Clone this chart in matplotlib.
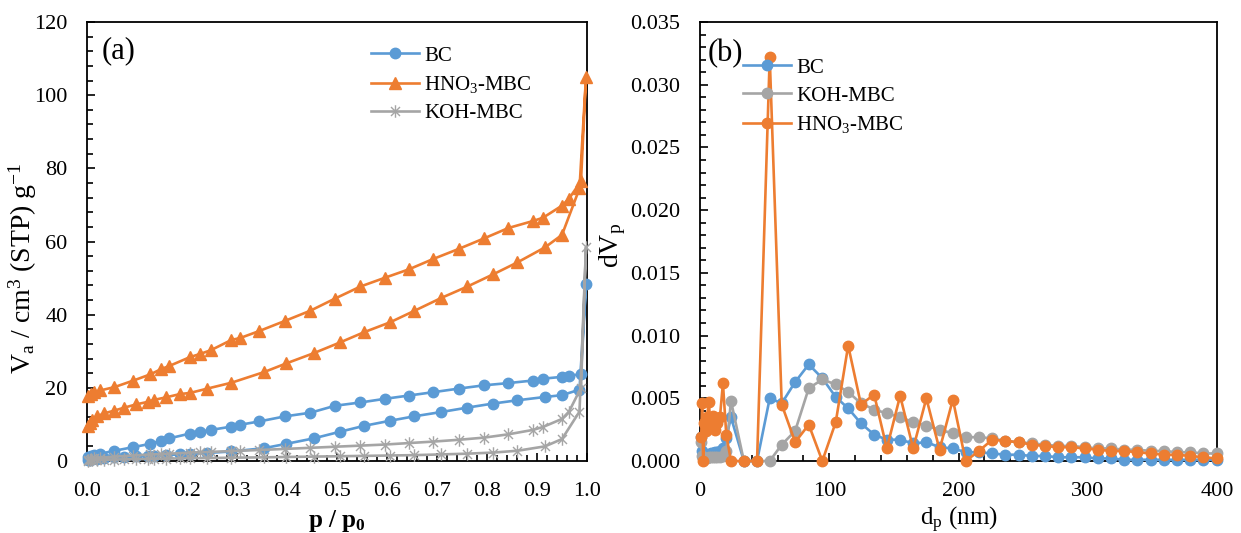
import matplotlib
matplotlib.use("Agg")
import matplotlib.pyplot as plt
from matplotlib.path import Path
from matplotlib.ticker import MultipleLocator, FormatStrFormatter

plt.rcParams['font.family'] = ['Liberation Serif', 'DejaVu Serif']
plt.rcParams['mathtext.default'] = 'regular'

# ---------------- Panel (a): N2 isotherms ----------------
P_ADS = [0.003, 0.006, 0.01, 0.02, 0.034, 0.055, 0.075, 0.099, 0.123, 0.134, 0.158, 0.186,
         0.206, 0.241, 0.289, 0.354, 0.399, 0.454, 0.506, 0.554, 0.606, 0.654, 0.709, 0.761,
         0.812, 0.861, 0.916, 0.950, 0.985, 0.998]
BC_ADS = [0.3, 0.4, 0.5, 0.6, 0.8, 1.0, 1.1, 1.3, 1.4, 1.5, 1.6, 1.8,
          1.9, 2.2, 2.6, 3.5, 4.7, 6.2, 8.0, 9.6, 11.0, 12.2, 13.4, 14.6,
          15.7, 16.6, 17.5, 18.0, 19.5, 48.4]
HNO3_ADS = [9.6, 10.4, 11.2, 12.2, 13.0, 13.8, 14.6, 15.5, 16.2, 16.7, 17.4, 18.3,
            18.6, 19.8, 21.4, 24.3, 26.7, 29.5, 32.4, 35.2, 37.9, 41.0, 44.6, 47.7,
            51.0, 54.3, 58.4, 61.8, 74.5, 105.0]
KOH_ADS = [0.1, 0.15, 0.2, 0.25, 0.3, 0.4, 0.45, 0.5, 0.55, 0.6, 0.65, 0.7,
           0.75, 0.8, 0.9, 1.0, 1.1, 1.2, 1.3, 1.4, 1.5, 1.6, 1.8, 2.0,
           2.3, 2.8, 4.0, 6.0, 13.5, 58.5]

P_DES = [0.003, 0.008, 0.015, 0.027, 0.055, 0.093, 0.127, 0.148, 0.165, 0.206, 0.227, 0.248,
         0.289, 0.306, 0.344, 0.396, 0.447, 0.496, 0.547, 0.596, 0.644, 0.692, 0.744, 0.795,
         0.843, 0.892, 0.912, 0.950, 0.964, 0.988]
BC_DES = [1.0, 1.3, 1.6, 2.0, 2.8, 3.8, 4.7, 5.5, 6.2, 7.5, 8.0, 8.5,
          9.4, 9.9, 10.8, 12.2, 13.2, 15.1, 16.0, 17.0, 17.9, 18.8, 19.8, 20.7,
          21.3, 22.0, 22.5, 23.0, 23.2, 23.8]
HNO3_DES = [17.9, 18.3, 18.8, 19.3, 20.2, 22.0, 23.7, 25.1, 26.0, 28.4, 29.3, 30.3,
            33.1, 33.6, 35.5, 38.3, 41.1, 44.4, 47.7, 50.1, 52.4, 55.2, 58.0, 60.9,
            63.7, 65.6, 66.5, 69.8, 71.7, 76.5]
KOH_DES = [0.3, 0.5, 0.7, 0.9, 1.2, 1.5, 1.8, 1.9, 2.0, 2.3, 2.4, 2.5,
           2.7, 2.8, 3.0, 3.3, 3.6, 3.9, 4.2, 4.5, 4.9, 5.3, 5.8, 6.4,
           7.3, 8.5, 9.3, 11.5, 13.5, 20.0]

# ---------------- Panel (b): pore size distribution ----------------
D_NM = [0.9, 1.6, 2.4, 3.3, 4.3, 5.4, 6.7, 8.1, 9.7, 11.4, 13.3, 15.4, 17.7, 20.3,
        23.9, 33.9, 44.1, 53.9, 63.2, 73.6, 84.1, 94.6, 105.0, 114.6, 124.5, 134.7,
        144.5, 154.8, 164.9, 175.1, 185.3, 195.6, 205.5, 215.8, 226.0, 236.2, 246.4,
        256.6, 266.8, 277.0, 287.3, 297.5, 307.7, 317.9, 328.1, 338.4, 348.6, 358.8,
        369.0, 379.2, 389.5, 399.7]
BC_DV = [0.0019, 0.0008, 0.0005, 0.0004, 0.0004, 0.0005, 0.0005, 0.0006, 0.0006, 0.0007,
         0.0007, 0.0008, 0.0010, 0.0018, 0.0035, 0.0000, 0.0000, 0.0050, 0.0046, 0.0063,
         0.0077, 0.0066, 0.0051, 0.0042, 0.0030, 0.0021, 0.0017, 0.0017, 0.0014, 0.0015,
         0.0011, 0.0010, 0.0007, 0.0007, 0.0006, 0.0005, 0.0005, 0.0004, 0.0004, 0.0003,
         0.0003, 0.0003, 0.0002, 0.0002, 0.0001, 0.0001, 0.0001, 0.0001, 0.0001, 0.0001,
         0.0001, 0.0001]
KOH_DV = [0.0015, 0.0004, 0.0002, 0.0002, 0.0002, 0.0002, 0.0003, 0.0003, 0.0003, 0.0003,
          0.0003, 0.0003, 0.0004, 0.0008, 0.0048, 0.0000, 0.0000, 0.0000, 0.0013, 0.0024,
          0.0058, 0.0065, 0.0061, 0.0055, 0.0046, 0.0041, 0.0038, 0.0035, 0.0031, 0.0028,
          0.0025, 0.0022, 0.0019, 0.0019, 0.0018, 0.0016, 0.0015, 0.0014, 0.0013, 0.0012,
          0.0012, 0.0011, 0.0010, 0.0010, 0.0009, 0.0009, 0.0008, 0.0008, 0.0007, 0.0007,
          0.0006, 0.0006]
HNO3_DV = [0.0019, 0.0046, 0.0000, 0.0030, 0.0024, 0.0035, 0.0047, 0.0030, 0.0036, 0.0025,
           0.0030, 0.0035, 0.0062, 0.0021, 0.0000, 0.0000, 0.0000, 0.0322, 0.0045, 0.0015,
           0.0029, 0.0000, 0.0031, 0.0092, 0.0045, 0.0053, 0.0010, 0.0052, 0.0010, 0.0050,
           0.0009, 0.0049, 0.0000, 0.0008, 0.0017, 0.0016, 0.0015, 0.0013, 0.0012, 0.0011,
           0.0011, 0.0010, 0.0009, 0.0008, 0.0008, 0.0007, 0.0006, 0.0005, 0.0005, 0.0004,
           0.0003, 0.0002]

BLUE = '#5B9BD5'
ORANGE = '#ED7D31'
GRAY = '#A5A5A5'

# Excel-like asterisk marker (vertical line + X)
STAR = Path([(0, -1), (0, 1), (-0.72, -0.72), (0.72, 0.72), (-0.72, 0.72), (0.72, -0.72)],
            [Path.MOVETO, Path.LINETO, Path.MOVETO, Path.LINETO, Path.MOVETO, Path.LINETO])

fig = plt.figure(figsize=(12.41, 5.33), dpi=100)
ax1 = fig.add_axes([0.0701, 0.1351, 0.4029, 0.8236])
ax2 = fig.add_axes([0.5641, 0.1351, 0.4166, 0.8236])

def loop(p_a, v_a, p_d, v_d):
    return list(p_a) + list(p_d)[::-1], list(v_a) + list(v_d)[::-1]

lw = 1.9
x, y = loop(P_ADS, BC_ADS, P_DES, BC_DES)
ax1.plot(x, y, color=BLUE, lw=lw, marker='o', ms=7.5, label='BC', clip_on=False, zorder=3)
x, y = loop(P_ADS, HNO3_ADS, P_DES, HNO3_DES)
ax1.plot(x, y, color=ORANGE, lw=lw, marker='^', ms=8, label='HNO$_3$-MBC', clip_on=False, zorder=4)
x, y = loop(P_ADS, KOH_ADS, P_DES, KOH_DES)
ax1.plot(x, y, color=GRAY, lw=lw, marker=STAR, ms=9, mew=1.0, mfc='none', mec=GRAY,
         label='KOH-MBC', clip_on=False, zorder=5)

ax1.set_xlim(0, 1.0)
ax1.set_ylim(0, 120)
ax1.xaxis.set_major_locator(MultipleLocator(0.1))
ax1.xaxis.set_minor_locator(MultipleLocator(0.02))
ax1.yaxis.set_major_locator(MultipleLocator(20))
ax1.yaxis.set_minor_locator(MultipleLocator(4))
ax1.xaxis.set_major_formatter(FormatStrFormatter('%.1f'))
ax1.set_xlabel('p / p$_0$', fontsize=18, fontweight='bold')
ax1.xaxis.set_label_coords(0.5, -0.108)
ax1.set_ylabel('V$_a$ / cm$^3$ (STP) g$^{-1}$', fontsize=20)
ax1.yaxis.set_label_coords(-0.095, 0.44)
ax1.text(0.03, 0.934, '(a)', transform=ax1.transAxes, fontsize=22, va='center', ha='left')
ax1.legend(loc='upper left', bbox_to_anchor=(0.568, 0.945), frameon=False, fontsize=15,
           handlelength=2.3, handletextpad=0.25, labelspacing=0.4, borderpad=0, borderaxespad=0)

ax2.plot(D_NM, BC_DV, color=BLUE, lw=lw, marker='o', ms=7.5, label='BC', clip_on=False, zorder=3)
ax2.plot(D_NM, KOH_DV, color=GRAY, lw=lw, marker='o', ms=7.5, label='KOH-MBC', clip_on=False, zorder=4)
ax2.plot(D_NM, HNO3_DV, color=ORANGE, lw=lw, marker='o', ms=7.5, label='HNO$_3$-MBC', clip_on=False, zorder=5)

ax2.set_xlim(0, 400)
ax2.set_ylim(0, 0.035)
ax2.xaxis.set_major_locator(MultipleLocator(100))
ax2.xaxis.set_minor_locator(MultipleLocator(20))
ax2.yaxis.set_major_locator(MultipleLocator(0.005))
ax2.yaxis.set_minor_locator(MultipleLocator(0.001))
ax2.yaxis.set_major_formatter(FormatStrFormatter('%.3f'))
ax2.set_xlabel('d$_p$ (nm)', fontsize=18)
ax2.xaxis.set_label_coords(0.5, -0.10)
ax2.set_ylabel('dV$_p$', fontsize=20)
ax2.yaxis.set_label_coords(-0.14, 0.49)
ax2.text(0.015, 0.928, '(b)', transform=ax2.transAxes, fontsize=22, va='center', ha='left')
ax2.legend(loc='upper left', bbox_to_anchor=(0.083, 0.918), frameon=False, fontsize=15,
           handlelength=2.3, handletextpad=0.25, labelspacing=0.4, borderpad=0, borderaxespad=0)

for ax in (ax1, ax2):
    for s in ax.spines.values():
        s.set_linewidth(1.3)
        s.set_color('black')
    ax.tick_params(which='both', direction='in', top=False, right=False, labelsize=16,
                   width=1.2, colors='black')
    ax.tick_params(which='major', length=6)
    ax.tick_params(axis='x', which='major', pad=15)
    ax.tick_params(axis='y', which='major', pad=14)
    ax.tick_params(which='minor', length=4)

fig.savefig('out.png', dpi=100)
